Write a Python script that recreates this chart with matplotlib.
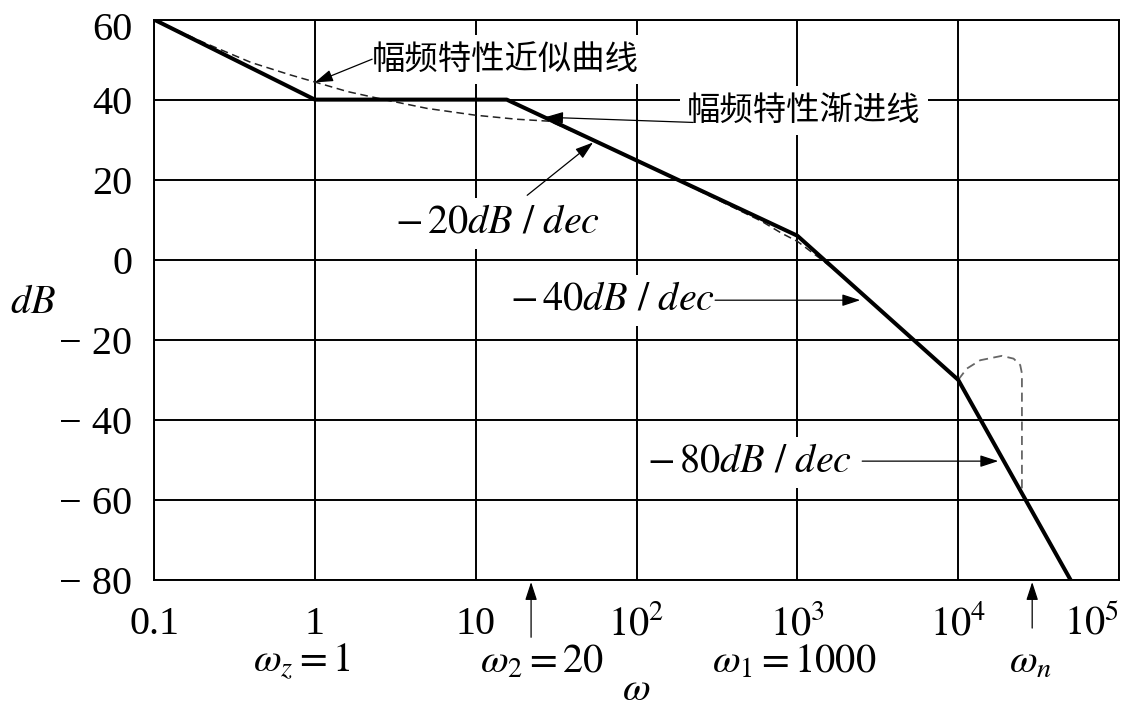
import matplotlib.pyplot as plt
import matplotlib.transforms as mtransforms

plt.rcParams['mathtext.fontset'] = 'stix'
plt.rcParams['font.family'] = ['Liberation Serif', 'DejaVu Serif']

# asymptote corners (omega, dB)
asym_w = [0.1, 1, 15.6, 1000, 1e4, 5e4]
asym_db = [60, 40, 40, 6, -30, -80]

# approximate curve
approx_w = [0.1, 0.2, 0.4, 0.7, 1, 1.6, 2.7, 5, 10, 18, 29, 100, 600, 800, 1000, 1200, 1450, 2000, 1e4]
approx_db = [60, 54.4, 49.3, 46.2, 44.4, 42, 40, 37.8, 36.1, 35.1, 34.6, 24.9, 9.6, 6.6, 4.6, 2.2, -0.3, -4.8, -30]

# resonance peak near omega_n
peak_w = [1e4, 11300, 13700, 18700, 22100, 24300, 24900, 24900]
peak_db = [-30, -27.2, -25.1, -24.0, -24.7, -26.3, -28.4, -57.5]

x_ticks = [0.1, 1, 10, 1e2, 1e3, 1e4, 1e5]
x_labels = ['0.1', '1', '10', r'$10^2$', r'$10^3$', r'$10^4$', r'$10^5$']
y_ticks = [60, 40, 20, 0, -20, -40, -60, -80]
y_labels = ['60', '40', '20', '0', '\u2212 20', '\u2212 40', '\u2212 60', '\u2212 80']

fs = 29

fig = plt.figure(figsize=(11.3, 7.11), dpi=100)
ax = fig.add_axes([0.1363, 0.1842, 0.854, 0.7883])
ax.set_xscale('log')
ax.set_xlim(0.1, 1e5)
ax.set_ylim(-80, 60)
ax.set_xticks(x_ticks)
ax.set_yticks(y_ticks)
ax.xaxis.set_minor_locator(plt.NullLocator())
ax.tick_params(length=0, labelbottom=False, labelleft=False)
ax.grid(True, color='black', lw=1.4)
ax.set_axisbelow(True)
for s in ax.spines.values():
    s.set_linewidth(1.4)

# tick labels
ytrans = mtransforms.blended_transform_factory(ax.transAxes, ax.transData)
for v, lab in zip(y_ticks, y_labels):
    yy = v - 5.1 if v == 60 else v - 3.5
    ax.text(-0.0228, yy, lab, transform=ytrans, ha='right', va='baseline', fontsize=fs)

xtrans = mtransforms.blended_transform_factory(ax.transData, ax.transAxes)
for v, lab in zip(x_ticks, x_labels):
    ax.text(v, -0.0964, lab, transform=xtrans, ha='right' if v == 1e5 else 'center',
            va='baseline', fontsize=fs)

# omega markers under the axis
omega_x = [0.833, 25.9, 955, 28060]
omega_labels = [r'$\omega_z=1$', r'$\omega_2=20$', r'$\omega_1=1000$', r'$\omega_n$']
for v, lab in zip(omega_x, omega_labels):
    ax.text(v, -0.1643, lab, transform=xtrans, ha='center', va='baseline', fontsize=fs)

ax.text(0.5, -0.2295, r'$\omega$', transform=ax.transAxes, ha='center', va='bottom', fontsize=fs)
ax.text(-0.149, 0.4768, r'$dB$', transform=ax.transAxes, ha='left', va='baseline', fontsize=fs)

# curves
ax.plot(approx_w, approx_db, color='#222222', lw=1.1, dashes=(5, 3), zorder=4)
ax.plot(peak_w, peak_db, color='#666666', lw=1.3, dashes=(5, 3), zorder=4)
ax.plot(asym_w, asym_db, color='black', lw=2.9, zorder=5)

# annotations
aprops = dict(arrowstyle='-|>,head_length=0.55,head_width=0.18', mutation_scale=20,
              lw=0.9, color='black', shrinkA=0, shrinkB=0)
box = dict(facecolor='white', edgecolor='none', pad=5)
cjk = ['Noto Sans CJK SC', 'DejaVu Sans']

ax.text(2.27, 50.1, '幅频特性近似曲线', family=cjk, fontsize=24, ha='left', va='center', bbox=box)
ax.annotate('', xy=(1.0, 44.3), xytext=(2.27, 50.1), arrowprops=aprops)

ax.text(206, 37.3, '幅频特性渐进线', family=cjk, fontsize=24, ha='left', va='center', bbox=box)
ax.annotate('', xy=(27.0, 35.6), xytext=(225, 34.3), arrowprops=aprops)

ax.text(13.6, 9.1, r'$-\,20dB\ /\ dec$', fontsize=fs, ha='center', va='center', bbox=box)
ax.annotate('', xy=(53.7, 29.3), xytext=(20.9, 16.1), arrowprops=aprops)

ax.text(308, -10.1, r'$-\,40dB\ /\ dec$', fontsize=fs, ha='right', va='center', bbox=box)
ax.annotate('', xy=(2460, -10.1), xytext=(308, -10.1), arrowprops=aprops)

ax.text(2193, -50.6, r'$-\,80dB\ /\ dec$', fontsize=fs, ha='right', va='center', bbox=box)
ax.annotate('', xy=(17740, -50.3), xytext=(2530, -50.3), arrowprops=aprops)

ax.annotate('', xy=(22.1, -80.5), xytext=(22.1, -94.3), arrowprops=aprops, annotation_clip=False)
ax.annotate('', xy=(28840, -80.5), xytext=(28840, -92.0), arrowprops=aprops, annotation_clip=False)

fig.savefig('out.png', dpi=100)
